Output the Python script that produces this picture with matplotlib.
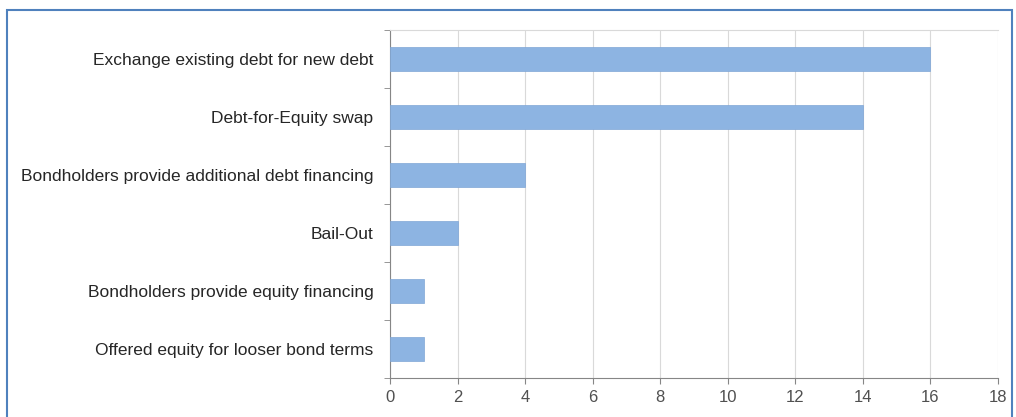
import matplotlib.pyplot as plt
from matplotlib.patches import Rectangle

# categories top to bottom
categories = [
    "Exchange existing debt for new debt",
    "Debt-for-Equity swap",
    "Bondholders provide additional debt financing",
    "Bail-Out",
    "Bondholders provide equity financing",
    "Offered equity for looser bond terms",
]
counts = [16, 14, 4, 2, 1, 1]
x_ticks = list(range(0, 19, 2))

plt.rcParams['font.family'] = ['Liberation Sans', 'DejaVu Sans']

fig = plt.figure(figsize=(10.16, 4.17), dpi=100)
W, H = 1016, 417
ax = fig.add_axes([390 / W, 1 - 378 / H, (998 - 390) / W, (378 - 30) / H])

n = len(categories)
pos = list(range(n))[::-1]
ax.barh(pos, counts, height=0.4, color='#8DB4E2', edgecolor='#7FA6D6', linewidth=0.5, zorder=3)

ax.set_xlim(0, 18)
ax.set_ylim(-0.5, n - 0.5)
ax.set_xticks(x_ticks)
ax.set_xticklabels([str(v) for v in x_ticks], fontsize=12, color='#505050')
ax.set_yticks(pos)
ax.set_yticklabels(categories, fontsize=12.5, color='#262626')
ax.tick_params(axis='y', length=0, pad=12)
ax.tick_params(axis='x', length=4, color='#868686', pad=5)

# small ticks between categories on the y axis
ax.set_yticks([p - 0.5 for p in range(n + 1)], minor=True)
ax.tick_params(axis='y', which='minor', length=4, color='#868686')

ax.grid(axis='x', color='#D9D9D9', linewidth=0.8, zorder=0)
ax.spines['right'].set_visible(False)
ax.spines['top'].set_color('#D9D9D9')
ax.spines['top'].set_linewidth(0.8)
for s in ['left', 'bottom']:
    ax.spines[s].set_color('#868686')
    ax.spines[s].set_linewidth(0.8)

# outer blue frame
fig.patches.append(Rectangle((7 / W, -0.05), (1012 - 7) / W, 1.05 - 10 / H,
                             transform=fig.transFigure, fill=False,
                             edgecolor='#4F81BD', linewidth=1.5))

fig.savefig("out.png", dpi=100)
